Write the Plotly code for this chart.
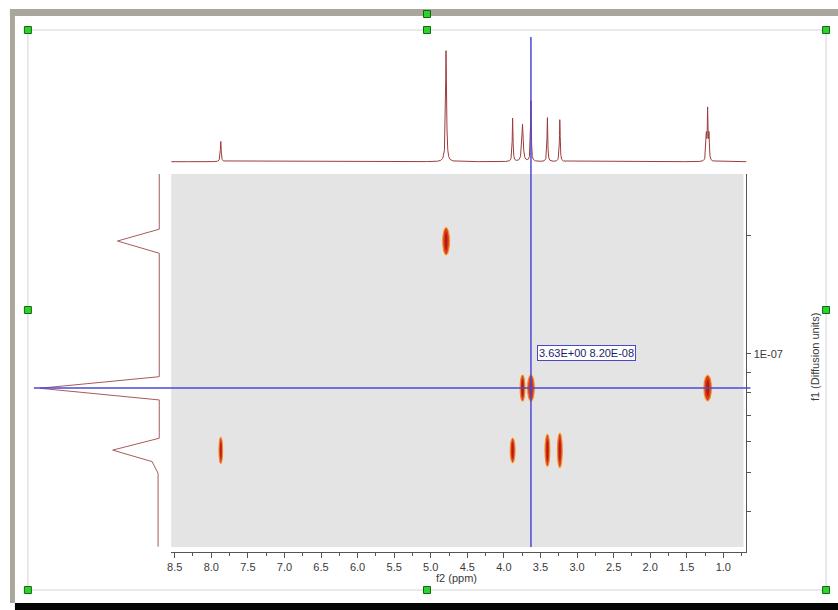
import numpy as np
import plotly.graph_objects as go

# ---------------- data ----------------
# 1D 1H spectrum (top trace): peak table
peak_ppm    = [7.87, 4.79, 3.88, 3.745, 3.63, 3.405, 3.235, 1.232, 1.214, 1.196]
peak_height = [0.18, 1.00, 0.39, 0.33, 0.55, 0.39, 0.38, 0.22, 0.45, 0.22]
peak_hw     = [0.007, 0.008, 0.006, 0.011, 0.006, 0.006, 0.006, 0.006, 0.006, 0.006]

# DOSY cross peaks (f2 ppm, diffusion coefficient)
spot_ppm   = [7.87, 4.79, 3.88, 3.745, 3.63, 3.405, 3.235, 1.214]
spot_D     = [5.7e-8, 1.93e-7, 5.7e-8, 8.2e-8, 8.2e-8, 5.7e-8, 5.7e-8, 8.2e-8]
spot_w_ppm = [0.05, 0.09, 0.065, 0.065, 0.09, 0.065, 0.065, 0.10]
spot_h_dec = [0.066, 0.068, 0.062, 0.066, 0.066, 0.080, 0.086, 0.064]

# diffusion projection (left trace)
proj_D = [2.855e-7, 2.07e-7, 1.932e-7, 1.799e-7, 8.76e-8, 8.19e-8, 7.65e-8,
          6.12e-8, 5.71e-8, 5.34e-8, 4.99e-8, 3.25e-8]
proj_I = [0.0, 0.0, 0.35, 0.0, 0.0, 1.0, 0.0, 0.0, 0.39, 0.06, 0.01, 0.01]

# cursor
cursor_ppm = 3.63
cursor_D = 8.20e-8

# axes
ppm_range = [8.548, 0.684]
logD_range = [-7.5013, -6.5443]
x_tickvals = [8.5, 8.0, 7.5, 7.0, 6.5, 6.0, 5.5, 5.0, 4.5, 4.0, 3.5, 3.0, 2.5, 2.0, 1.5, 1.0]
y_tickvals = [2e-7, 1e-7, 9e-8, 8e-8, 7e-8, 6e-8, 5e-8, 4e-8]
y_ticktext = ["", "1E-07", "", "", "", "", "", ""]

# ---------------- figure ----------------
W, H = 838, 610
def px(x): return x / W
def py(y): return 1 - y / H

FONT = "Liberation Sans"
TXT = "#3a3a3a"
LINE_C = "#9c3c3c"

ppm_grid = np.linspace(ppm_range[1], ppm_range[0], 4001)
spec = np.zeros_like(ppm_grid)
for p, h, w in zip(peak_ppm, peak_height, peak_hw):
    spec += h * w**2 / ((ppm_grid - p)**2 + w**2)

fig = go.Figure()
fig.add_trace(go.Scatter(x=ppm_grid, y=spec, mode="lines", xaxis="x2", yaxis="y2",
                         line=dict(color=LINE_C, width=1), hoverinfo="skip", showlegend=False))
fig.add_trace(go.Scatter(x=proj_I, y=proj_D, mode="lines", xaxis="x3", yaxis="y3",
                         line=dict(color="#a85a5a", width=1), hoverinfo="skip", showlegend=False))
# invisible trace to set main axes
fig.add_trace(go.Scatter(x=spot_ppm, y=spot_D, mode="markers", marker=dict(opacity=0),
                         hoverinfo="skip", showlegend=False))

shapes = []
# window frame
shapes.append(dict(type="rect", xref="paper", yref="paper", x0=px(6), x1=px(838), y0=py(16), y1=py(9),
                   fillcolor="#a9a79b", line=dict(width=0), layer="below"))
shapes.append(dict(type="rect", xref="paper", yref="paper", x0=px(6), x1=px(11), y0=py(603), y1=py(9),
                   fillcolor="#a9a79b", line=dict(width=0), layer="below"))
shapes.append(dict(type="rect", xref="paper", yref="paper", x0=px(11), x1=px(838), y0=py(610), y1=py(603),
                   fillcolor="#050505", line=dict(width=0), layer="below"))
shapes.append(dict(type="rect", xref="paper", yref="paper", x0=px(24), x1=px(826), y0=py(590), y1=py(30),
                   fillcolor="rgba(0,0,0,0)", line=dict(color="#d4d4d4", width=1), layer="below"))
# gray plot region
shapes.append(dict(type="rect", xref="paper", yref="paper", x0=px(168), x1=px(743), y0=py(547), y1=py(174),
                   fillcolor="#e4e4e4", line=dict(width=0), layer="below"))
# cross peaks
for p, d, w, hd in zip(spot_ppm, spot_D, spot_w_ppm, spot_h_dec):
    shapes.append(dict(type="circle", xref="x", yref="y", x0=p - w * 0.65, x1=p + w * 0.65,
                       y0=d * 10 ** (-hd * 0.55), y1=d * 10 ** (hd * 0.55),
                       fillcolor="#f6d27a", line=dict(width=0), layer="above", opacity=0.8))
    shapes.append(dict(type="circle", xref="x", yref="y", x0=p - w / 2, x1=p + w / 2,
                       y0=d * 10 ** (-hd / 2), y1=d * 10 ** (hd / 2),
                       fillcolor="#dd3a22", line=dict(color="#f08a30", width=1), layer="above"))
    shapes.append(dict(type="circle", xref="x", yref="y", x0=p - w / 5, x1=p + w / 5,
                       y0=d * 10 ** (-hd / 3), y1=d * 10 ** (hd / 3),
                       fillcolor="#b01c14", line=dict(width=0), layer="above"))
# cursor lines
shapes.append(dict(type="line", xref="x", yref="paper", x0=cursor_ppm, x1=cursor_ppm,
                   y0=py(547), y1=py(37), line=dict(color="#4a4ad6", width=1.5), layer="above"))
shapes.append(dict(type="line", xref="paper", yref="y", x0=px(30), x1=px(750),
                   y0=cursor_D, y1=cursor_D, line=dict(color="#4a4ad6", width=1.5), layer="above"))
# selection handles
for hx, hy in [(24, 30), (425, 30), (826, 30), (425, 14), (24, 310), (826, 310),
               (24, 590), (425, 590), (826, 590)]:
    shapes.append(dict(type="rect", xref="paper", yref="paper", x0=px(hx - 3.5), x1=px(hx + 3.5),
                       y0=py(hy + 3.5), y1=py(hy - 3.5), fillcolor="#2fd12f",
                       line=dict(color="#0c6a0c", width=1), layer="above"))

annotations = [
    dict(xref="paper", yref="paper", x=px(536), y=py(353), xanchor="left", yanchor="middle",
         text=f"{cursor_ppm:.2E} {cursor_D:.2E}", showarrow=False,
         font=dict(family=FONT, size=11, color="#1c1c6c"),
         bgcolor="white", bordercolor="#4848c8", borderwidth=1, borderpad=1),
    dict(xref="paper", yref="paper", x=px(455), y=py(578), xanchor="center", yanchor="middle",
         text="f2 (ppm)", showarrow=False, font=dict(family=FONT, size=11, color=TXT)),
    dict(xref="paper", yref="paper", x=px(815), y=py(357), xanchor="center", yanchor="middle",
         text="f1 (Diffusion units)", textangle=-90, showarrow=False,
         font=dict(family=FONT, size=11, color=TXT)),
]

fig.update_layout(
    width=W, height=H, margin=dict(l=0, r=0, t=0, b=0),
    paper_bgcolor="white", plot_bgcolor="rgba(0,0,0,0)",
    showlegend=False, hovermode=False,
    font=dict(family=FONT, size=11, color=TXT),
    xaxis=dict(domain=[px(168), px(746)], range=ppm_range, anchor="y",
               tickmode="array", tickvals=x_tickvals, ticktext=[f"{v:.1f}" for v in x_tickvals],
               ticks="outside", ticklen=5, tickcolor="#555", showline=True, linecolor="#555",
               linewidth=1, showgrid=False, zeroline=False,
               minor=dict(dtick=0.25, tick0=0, ticks="outside", ticklen=3, tickcolor="#555", showgrid=False),
               tickfont=dict(family=FONT, size=11, color=TXT)),
    yaxis=dict(domain=[1 - 552 / H, 1 - 174 / H], type="log", range=logD_range, anchor="x",
               side="right", tickmode="array", tickvals=y_tickvals, ticktext=y_ticktext,
               ticks="outside", ticklen=4, tickcolor="#555", showline=True, linecolor="#555",
               linewidth=1, showgrid=False, zeroline=False,
               tickfont=dict(family=FONT, size=11, color=TXT)),
    xaxis2=dict(domain=[px(168), px(746)], range=ppm_range, anchor="y2", visible=False),
    yaxis2=dict(domain=[1 - 170 / H, 1 - 30 / H], range=[-0.0736, 1.1686], anchor="x2", visible=False),
    xaxis3=dict(domain=[px(20), px(168)], range=[1.1333, -0.1], anchor="y3", visible=False),
    yaxis3=dict(domain=[1 - 552 / H, 1 - 174 / H], type="log", range=logD_range, anchor="x3",
                visible=False),
    shapes=shapes, annotations=annotations,
)

fig.write_html("out.html", config={"displayModeBar": False, "staticPlot": True},
               post_script="document.body.style.margin='0px';document.body.style.overflow='hidden';")
